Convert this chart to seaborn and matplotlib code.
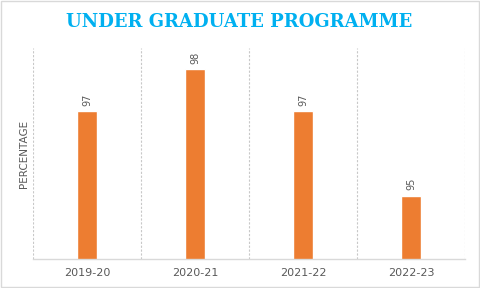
import matplotlib
matplotlib.use("Agg")
import matplotlib.pyplot as plt
import seaborn as sns
import pandas as pd
from matplotlib.patches import Rectangle

years = ["2019-20", "2020-21", "2021-22", "2022-23"]
percentages = [97, 98, 97, 95]
title_text = "UNDER GRADUATE PROGRAMME"
ylabel_text = "PERCENTAGE"

df = pd.DataFrame({"year": years, "pct": percentages})

sns.set_theme(style="white")
plt.rcParams["font.family"] = ["DejaVu Sans"]

fig = plt.figure(figsize=(4.8, 2.88), dpi=100)
ax = fig.add_axes([0.069, 0.100, 0.900, 0.733])

sns.barplot(data=df, x="year", y="pct", color="#ED7D31", width=0.185,
            saturation=1, ax=ax)

ax.set_ylim(93.5, 98.5)
ax.set_xlim(-0.5, len(years) - 0.5)
ax.set_yticks([])
ax.set_xlabel("")
ax.set_ylabel(ylabel_text, fontsize=7.5, color="#595959", labelpad=3)

for i, v in enumerate(percentages):
    ax.annotate(str(v), (i, v), xytext=(0, 4), textcoords="offset points",
                rotation=90, ha="center", va="bottom", fontsize=7,
                color="#595959")

for b in [x - 0.5 for x in range(len(years) + 1)]:
    ax.axvline(b, color="#C8C8C8", lw=0.8, ls=(0, (2, 1.5)), zorder=0)

for s in ["top", "right", "left"]:
    ax.spines[s].set_visible(False)
ax.spines["bottom"].set_color("#D9D9D9")
ax.spines["bottom"].set_linewidth(1)

ax.tick_params(axis="x", length=0, pad=6)
ax.set_xticks(range(len(years)))
ax.set_xticklabels(years, fontsize=8, color="#595959")

fig.text(0.498, 0.925, title_text, ha="center", va="center",
         fontsize=13, fontweight="bold", color="#00B0F0",
         family=["DejaVu Serif"])

fig.patches.append(Rectangle((0.002, 0.003), 0.996, 0.994, transform=fig.transFigure,
                             fill=False, edgecolor="#D9D9D9", lw=1))

fig.savefig("out.png", dpi=100)
